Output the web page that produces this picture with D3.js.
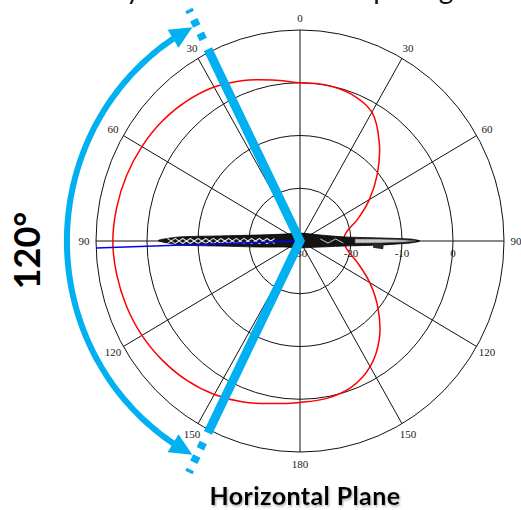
<!DOCTYPE html>
<html>
<head>
<meta charset="utf-8">
<script src="https://cdn.jsdelivr.net/npm/d3@7"></script>
<style>
  html, body { margin: 0; padding: 0; background: #fff; }
  svg { display: block; }
</style>
</head>
<body>
<svg id="chart" width="521" height="510"></svg>
<script>
// ---- data ---------------------------------------------------------------
// Polar grid (angles clockwise from the top, level in dB)
const ringLevels = [-20, -10, 0, 10];
const spokeAngles = [0, 30, 60, 90, 120, 150, 180, 210, 240, 270, 300, 330];
const angleLabels = ["0", "30", "60", "90", "120", "150", "180", "150", "120", "90", "60", "30"];
const dbTicks = [-30, -20, -10, 0];
const dbTickLabels = ["-30", "-20", "-10", "0"];

// Horizontal-plane response (red trace)
const redAngles = [0, 10, 20, 30, 40, 50, 60, 70, 80, 90, 100, 110, 120, 130, 140, 150, 160, 170,
                   180, 190, 200, 210, 220, 230, 240, 250, 260, 270, 280, 290, 300, 310, 320, 330, 340, 350];
const redDb = [0.0, 0.0, -0.4, -1.8, -5.8, -10.2, -14.3, -18.0, -20.8, -21.5, -20.6, -18.0, -14.2, -10.0, -5.8, -2.5, -0.5, 0.3,
               0.6, 1.3, 2.5, 3.6, 4.5, 5.2, 5.8, 6.2, 6.5, 6.7, 6.5, 6.2, 5.8, 5.3, 4.6, 3.7, 2.4, 1.0];

// Blue reference ray
const blueAngle = 268.1;
const blueDb = [-30, 10];

// Squashed vertical-plane trace (black band along the 90° axis)
const bandAngles = [270.2, 271.9, 273.5, 278.3, 294.3, 0, 73.8, 85.1, 87.9, 89.0, 90, 91.0, 92.8, 96.1, 106.2, 180, 248.8, 261.7, 266.5, 268.15];
const bandDb     = [-2.2, -6.5, -14.3, -22.1, -26.8, -28.5, -25.9, -21.1, -14.3, -8.4, -6.5, -8.4, -14.3, -21.1, -25.9, -28.7, -26.85, -22.1, -14.3, -6.5];
const bandGreyAngles = [87.9, 88.7, 89.45, 90, 90.55, 91.3, 92.1];
const bandGreyDb     = [-19.2, -14.3, -9.4, -7.25, -9.4, -14.3, -19.2];
const zigDb     = [-4, -5.5, -7, -8.5, -10, -11.5, -13, -14.5, -16, -17.5, -19, -20.5, -22, -23.5, -25];
const zigAnglesA = [271.1, 268.85, 271.2, 268.7, 271.4, 268.5, 271.65, 268.2, 272.0, 267.75, 272.6, 267.05, 273.5, 265.7, 275.6];
const zigAnglesB = [268.9, 271.15, 268.8, 271.3, 268.6, 271.5, 268.35, 271.8, 268.0, 272.25, 267.4, 272.95, 266.5, 274.3, 264.4];
const zigRightAngles = [84.4, 94.1, 86.8, 92.6];
const zigRightDb = [-26, -24.5, -23, -21.5];
const blobAngles = [93.2, 93.8];
const blobDb = [-15.6, -13.6];

// 120° coverage annotation
const coverageEdges = [333.6, 206.4];
const coverageDb = 10.6;        // end of the solid bars
const coverageDashDb = [12.65, 19];
const arcDb = 15.7;
const arcSpan = [212.5, 327.5];
const arcTips = [207.5, 332.5];
const coverageText = "120°";
const planeTitle = "Horizontal Plane";
const topTitle = "Directivity of a horn at wide spacing";

// ---- scales -------------------------------------------------------------
const cx = 300, cy = 241;
const rX = d3.scaleLinear().domain([-30, 10]).range([0, 204]);
const rY = d3.scaleLinear().domain([-30, 10]).range([0, 211]);
function pt(a, db) {
  const t = a * Math.PI / 180;
  return [cx + rX(db) * Math.sin(t), cy - rY(db) * Math.cos(t)];
}

const svg = d3.select("#chart");
const cyan = "#00b0f0";

// drop shadow for the caption
const defs = svg.append("defs");
const f = defs.append("filter").attr("id", "shadow").attr("x", "-10%").attr("y", "-30%").attr("width", "130%").attr("height", "160%");
f.append("feDropShadow").attr("dx", 1).attr("dy", 1.5).attr("stdDeviation", 0.9)
  .attr("flood-color", "#777").attr("flood-opacity", 0.6);

// ---- title running off the top edge (only descenders fall inside) ---------
svg.append("text")
  .attr("x", 12).attr("y", -1)
  .attr("font-family", "Lato, 'Open Sans', sans-serif")
  .attr("font-size", 28)
  .attr("fill", "#111")
  .text(topTitle);

// ---- grid ---------------------------------------------------------------
const grid = svg.append("g");
grid.selectAll("ellipse.ring").data(ringLevels).join("ellipse")
  .attr("cx", cx).attr("cy", cy)
  .attr("rx", d => rX(d)).attr("ry", d => rY(d))
  .attr("fill", "none").attr("stroke", "#111").attr("stroke-width", 1);

grid.selectAll("line.spoke").data(spokeAngles).join("line")
  .attr("x1", cx).attr("y1", cy)
  .attr("x2", d => pt(d, 10)[0]).attr("y2", d => pt(d, 10)[1])
  .attr("stroke", "#111").attr("stroke-width", 1);

// angle labels
svg.append("g").selectAll("text").data(spokeAngles).join("text")
  .attr("x", d => cx + (rX(10) + 12) * Math.sin(d * Math.PI / 180))
  .attr("y", d => cy - (rY(10) + 12) * Math.cos(d * Math.PI / 180))
  .attr("dy", "0.35em")
  .attr("text-anchor", "middle")
  .attr("font-family", "'Liberation Serif', 'Times New Roman', serif")
  .attr("font-size", 11)
  .attr("fill", "#222")
  .text((d, i) => angleLabels[i]);

// ---- red trace ------------------------------------------------------------
const lineXY = d3.line().x(d => d[0]).y(d => d[1]);
svg.append("path")
  .attr("d", lineXY.curve(d3.curveCatmullRomClosed.alpha(0.5))(redAngles.map((a, i) => pt(a, redDb[i]))))
  .attr("fill", "none").attr("stroke", "#ff0000").attr("stroke-width", 1.5);

// ---- black band -------------------------------------------------------------
const straight = d3.line().x(d => d[0]).y(d => d[1]);
const band = svg.append("g");
band.append("path")
  .attr("d", d3.line().curve(d3.curveCardinalClosed.tension(0.3))(bandAngles.map((a, i) => pt(a, bandDb[i]))))
  .attr("fill", "#141414").attr("stroke", "#000").attr("stroke-width", 0.8);
band.append("path")
  .attr("d", d3.line().curve(d3.curveLinearClosed)(bandGreyAngles.map((a, i) => pt(a, bandGreyDb[i]))))
  .attr("fill", "#c9c9c9").attr("stroke", "#555").attr("stroke-width", 0.6);
[zigAnglesA, zigAnglesB].forEach(angles => {
  band.append("path")
    .attr("d", straight(angles.map((a, i) => pt(a, zigDb[i]))))
    .attr("fill", "none").attr("stroke", "#fff").attr("stroke-width", 1.1).attr("opacity", 0.85);
});
band.append("path")
  .attr("d", straight(zigRightAngles.map((a, i) => pt(a, zigRightDb[i]))))
  .attr("fill", "none").attr("stroke", "#fff").attr("stroke-width", 1).attr("opacity", 0.8);
band.append("path")
  .attr("d", straight(blobAngles.map((a, i) => pt(a, blobDb[i]))))
  .attr("stroke", "#2a2a2a").attr("stroke-width", 5);

// ---- blue ray -------------------------------------------------------------
svg.append("path")
  .attr("d", straight(blueDb.map(db => pt(blueAngle, db))))
  .attr("stroke", "#0000ff").attr("stroke-width", 1.5).attr("fill", "none");

// ---- dB labels ---------------------------------------------------------------
svg.append("g").selectAll("text").data(dbTicks).join("text")
  .attr("x", d => pt(90, d)[0])
  .attr("y", cy + 16)
  .attr("text-anchor", "middle")
  .attr("font-family", "'Liberation Serif', 'Times New Roman', serif")
  .attr("font-size", 11)
  .attr("fill", "#222")
  .text((d, i) => dbTickLabels[i]);

// ---- 120° coverage annotation ------------------------------------------------
const ann = svg.append("g");
ann.append("path")
  .attr("d", straight([pt(coverageEdges[0], coverageDb), pt(0, -30), pt(coverageEdges[1], coverageDb)]))
  .attr("fill", "none").attr("stroke", cyan).attr("stroke-width", 9)
  .attr("stroke-linejoin", "miter").attr("stroke-miterlimit", 10);
coverageEdges.forEach(a => {
  ann.append("path")
    .attr("d", straight(coverageDashDb.map(db => pt(a, db))))
    .attr("stroke", cyan).attr("stroke-width", 8).attr("stroke-dasharray", "7 8");
});

// curved double arrow
const arcPts = d3.range(arcSpan[0], arcSpan[1] + 0.01, 1).map(a => pt(a, arcDb));
ann.append("path")
  .attr("d", d3.line().curve(d3.curveCatmullRom)(arcPts))
  .attr("fill", "none").attr("stroke", cyan).attr("stroke-width", 6);
function head(tipAngle, baseAngle) {
  const tip = pt(tipAngle, arcDb), base = pt(baseAngle, arcDb);
  const dx = tip[0] - base[0], dy = tip[1] - base[1];
  const L = Math.hypot(dx, dy), nx = -dy / L, ny = dx / L, w = 10.5;
  return [tip, [base[0] + nx * w, base[1] + ny * w], [base[0] - nx * w, base[1] - ny * w]];
}
[[arcTips[1], arcSpan[1] - 0.5], [arcTips[0], arcSpan[0] + 0.5]].forEach(([t, b]) => {
  ann.append("path")
    .attr("d", d3.line().curve(d3.curveLinearClosed)(head(t, b)))
    .attr("fill", cyan);
});

// ---- captions ---------------------------------------------------------------
svg.append("text")
  .attr("transform", "translate(40,250.5) rotate(-90)")
  .attr("text-anchor", "middle")
  .attr("font-family", "Lato, 'Open Sans', sans-serif")
  .attr("font-weight", 700)
  .attr("font-size", 36)
  .attr("fill", "#000")
  .text(coverageText);

svg.append("text")
  .attr("x", 305).attr("y", 505)
  .attr("text-anchor", "middle")
  .attr("font-family", "Lato, 'Open Sans', sans-serif")
  .attr("font-weight", 700)
  .attr("font-size", 25)
  .attr("letter-spacing", 0.4)
  .attr("fill", "#000")
  .attr("filter", "url(#shadow)")
  .text(planeTitle);
</script>
</body>
</html>
